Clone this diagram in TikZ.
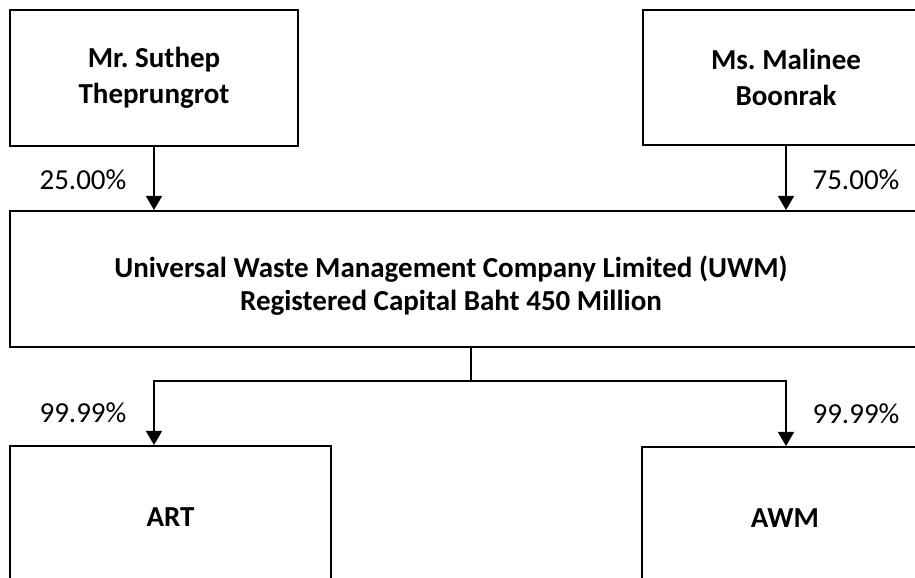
\documentclass[tikz,border=0pt]{standalone}
\usepackage{fontspec}
\setmainfont{Carlito}
\usepackage{tikz}
\usetikzlibrary{arrows.meta}
\frenchspacing

\tikzset{
  box/.style={draw, line width=1.1pt, rectangle, inner sep=0pt,
    font=\bfseries\fontsize{16.5}{20.5}\selectfont, align=center},
  pct/.style={font=\fontsize{16.5}{18.8}\selectfont},
  conn/.style={line width=1.1pt, -{Triangle[length=8pt,width=9pt]}}
}

\begin{document}
\begin{tikzpicture}
    \useasboundingbox (0,0) rectangle (18.3,-11.54);
    % owners
    \node[box, minimum width=5.76cm, minimum height=2.72cm] (suthep) at (3.08,-1.56)
      {Mr. Suthep\\Theprungrot};
    \node[box, minimum width=5.72cm, minimum height=2.70cm] (malinee) at (15.72,-1.55)
      {Ms. Malinee\\Boonrak};
    % UWM
    \node[box, minimum width=18.4cm, minimum height=2.72cm] (uwm) at (9.4,-5.58) {};
    \node[font=\bfseries\fontsize{16.5}{18.8}\selectfont, align=center] (uwmtext) at (9.02,-5.71)
      {Universal Waste Management Company Limited (UWM)\\Registered Capital Baht 450 Million};
    % subsidiaries
    \node[box, minimum width=6.42cm, minimum height=2.84cm] (art) at (3.41,-10.34) {ART};
    \node[box, minimum width=5.72cm, minimum height=2.84cm] (awm) at (15.70,-10.36) {AWM};
    \coordinate (split) at (9.42,-7.62);

    \draw[conn] (suthep.south) -- (suthep.south |- uwm.north);
    \draw[conn] (malinee.south) -- (malinee.south |- uwm.north);
    \draw[line width=1.1pt] (uwm.south -| split) -- (split);
    \draw[conn] (split) -| (suthep.south |- art.north);
    \draw[conn] (split) -| (malinee.south |- awm.north);

    \node[pct] (p1) at (1.66,-3.6) {25.00\%};
    \node[pct] (p2) at (17.12,-3.6) {75.00\%};
    \node[pct] (p3) at (1.66,-8.26) {99.99\%};
    \node[pct] (p4) at (17.12,-8.28) {99.99\%};
\end{tikzpicture}
\end{document}
